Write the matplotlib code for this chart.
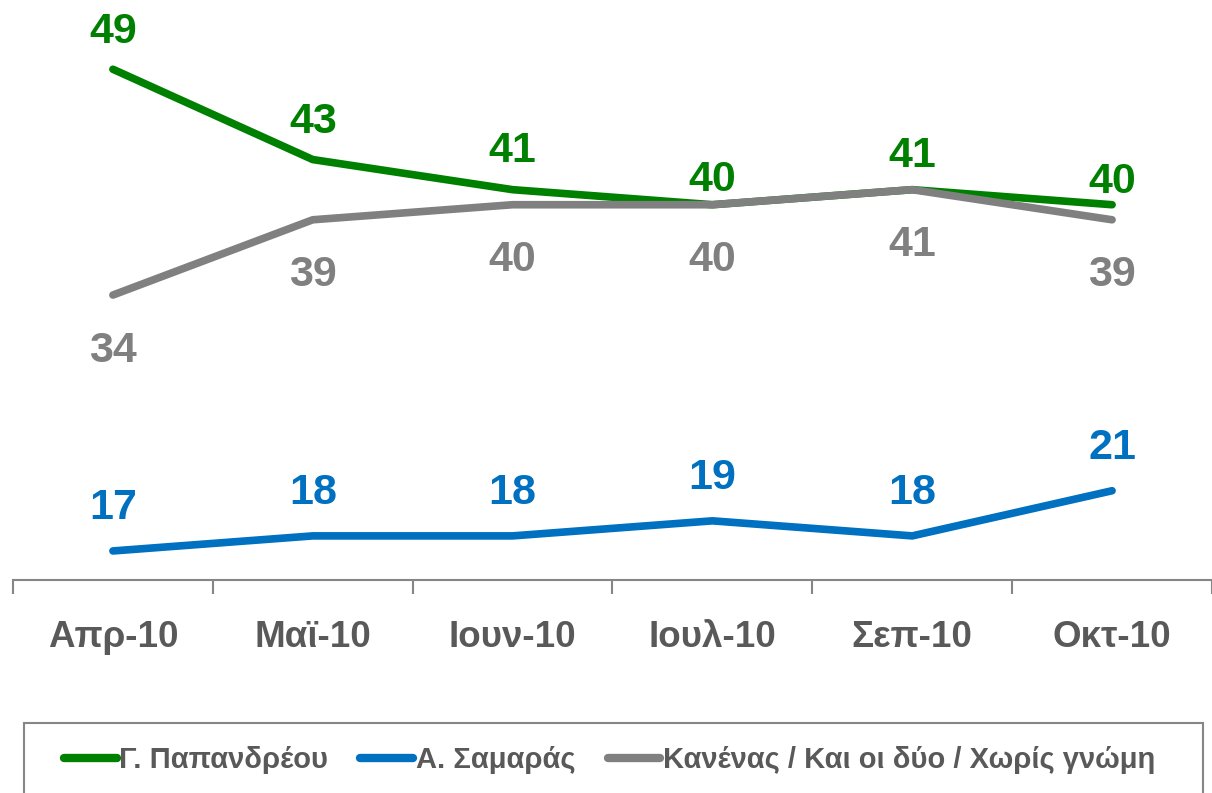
import matplotlib
matplotlib.use("Agg")
import matplotlib.pyplot as plt
from matplotlib.patches import Rectangle

months = ["Απρ-10", "Μαϊ-10", "Ιουν-10", "Ιουλ-10", "Σεπ-10", "Οκτ-10"]
papandreou = [49, 43, 41, 40, 41, 40]
samaras = [17, 18, 18, 19, 18, 21]
none_both = [34, 39, 40, 40, 41, 39]

names = ["Γ. Παπανδρέου", "Α. Σαμαράς", "Κανένας / Και οι δύο / Χωρίς γνώμη"]
colors = ["#008000", "#0070C0", "#808080"]

# label offsets in pixels (positive = above the point)
green_dy = [37.5, 37.5, 38.5, 24.5, 33.5, 22.5]
blue_dy = [42.5] * 6
gray_dy = [-55.5] * 6

plt.rcParams['font.family'] = ['Liberation Sans', 'DejaVu Sans']
plt.rcParams['font.weight'] = 'bold'

fig = plt.figure(figsize=(12.12, 7.93), dpi=100)
ax = fig.add_axes([13 / 1212, 1 - 580 / 793, 1199 / 1212, 580 / 793])

x = range(len(months))
series = [papandreou, samaras, none_both]
offsets = [green_dy, blue_dy, gray_dy]
for vals, name, c, offs in zip(series, names, colors, offsets):
    ax.plot(x, vals, color=c, lw=5.5, solid_capstyle='round', solid_joinstyle='round', label=name)
    for xi, v, off in zip(x, vals, offs):
        ax.annotate(str(v), (xi, v), xytext=(0, off * 0.72), textcoords='offset points',
                    ha='center', va='center', color=c, fontsize=31, fontweight='bold')

ax.set_xlim(-0.5, 5.5)
ax.set_ylim(15.07, 53.6)
ax.set_yticks([])
for s in ['top', 'right', 'left']:
    ax.spines[s].set_visible(False)
ax.spines['bottom'].set_color('#868686')
ax.spines['bottom'].set_linewidth(1.5)
ax.set_xticks([i + 0.5 for i in range(-1, 6)], minor=False)
ax.set_xticklabels([])
ax.tick_params(axis='x', which='major', length=10, width=1.5, color='#868686', direction='out')
ax.set_xticks(list(x), minor=True)
ax.set_xticklabels(months, minor=True)
ax.tick_params(axis='x', which='minor', length=0, pad=29, labelsize=26.5, labelcolor='#595959')

leg = fig.legend(loc='center left', bbox_to_anchor=(64 / 1212, 1 - 760 / 793), ncol=3, frameon=False,
                 fontsize=21, handlelength=1.8, handletextpad=0.1,
                 columnspacing=1.1, borderpad=0, borderaxespad=0)
for t in leg.get_texts():
    t.set_color('#595959')
    t.set_fontweight('bold')
for h in leg.legend_handles:
    h.set_linewidth(6)

fig.patches.append(Rectangle((24 / 1212, -0.01), (1203 - 24) / 1212, (793 - 723) / 793 + 0.01,
                             transform=fig.transFigure, fill=False, ec='#868686', lw=1.5))

fig.savefig("out.png", dpi=100)
